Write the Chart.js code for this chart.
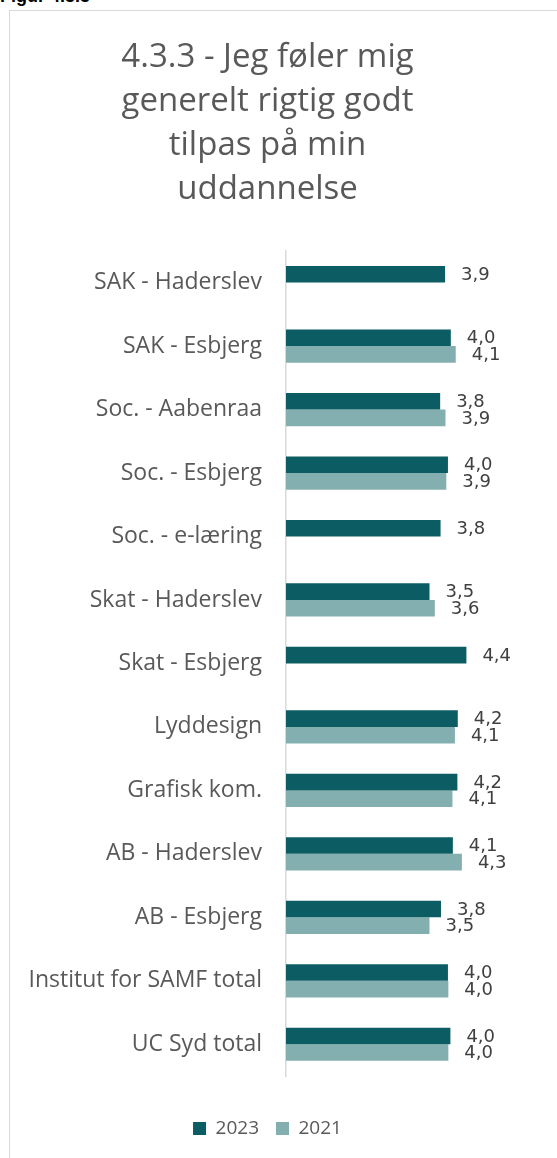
<!DOCTYPE html>
<html>
<head>
<meta charset="utf-8">
<script src="https://cdn.jsdelivr.net/npm/chart.js@4.4.1/dist/chart.umd.min.js"></script>
<style>
    body { margin: 0; background: #fff; overflow: hidden; }
    #fig { position: absolute; left: 0; top: -14px; font: bold 18px 'Liberation Sans', Arial, sans-serif; color: #000; }
    #frame { position: absolute; left: 9px; top: 10px; width: 700px; height: 1300px; border: 1.5px solid #d9d9d9; }
    #wrap { position: absolute; left: 0; top: 0; width: 557px; height: 1158px; }
</style>
</head>
<body>
<div id="fig">Figur 4.3.3</div>
<div id="frame"></div>
<div id="wrap"><canvas id="chart"></canvas></div>
<script>
// Spørgsmål 4.3.3 - gennemsnit pr. uddannelse
const CATEGORIES = [
    'SAK - Haderslev', 'SAK - Esbjerg', 'Soc. - Aabenraa', 'Soc. - Esbjerg',
    'Soc. - e-læring', 'Skat - Haderslev', 'Skat - Esbjerg', 'Lyddesign',
    'Grafisk kom.', 'AB - Haderslev', 'AB - Esbjerg', 'Institut for SAMF total',
    'UC Syd total'
];
const VALUES_2023 = [3.88, 4.02, 3.76, 3.95, 3.77, 3.50, 4.40, 4.19, 4.18, 4.07, 3.78, 3.95, 4.01];
const VALUES_2021 = [null, 4.14, 3.89, 3.91, null, 3.63, null, 4.12, 4.06, 4.29, 3.50, 3.96, 3.96];
const SERIES_NAMES = ['2023', '2021'];

const COLORS = {
    dark: '#0c5c63',
    light: '#84afb1',
    text: '#595959',
    value: '#404040',
    axis: '#d9d9d9'
};

const FONT = "'Open Sans', Lato, sans-serif";

// Draw the value next to each bar (comma decimals)
const valueLabels = {
    id: 'valueLabels',
    afterDatasetsDraw(chart) {
        const ctx = chart.ctx;
        ctx.save();
        ctx.font = "18px 'DejaVu Sans', sans-serif";
        ctx.fillStyle = COLORS.value;
        ctx.textAlign = 'left';
        ctx.textBaseline = 'middle';
        chart.data.datasets.forEach((ds, i) => {
            const meta = chart.getDatasetMeta(i);
            meta.data.forEach((bar, j) => {
                const v = ds.data[j];
                if (v == null) return;
                ctx.fillText(v.toFixed(1).replace('.', ','), bar.x + 16, bar.y + 1);
            });
        });
        ctx.restore();
    }
};

new Chart(document.getElementById('chart'), {
    type: 'bar',
    data: {
        labels: CATEGORIES,
        datasets: [{
            label: SERIES_NAMES[0],
            data: VALUES_2023,
            backgroundColor: COLORS.dark
        }, {
            label: SERIES_NAMES[1],
            data: VALUES_2021,
            backgroundColor: COLORS.light
        }]
    },
    options: {
        indexAxis: 'y',
        responsive: true,
        maintainAspectRatio: false,
        animation: false,
        categoryPercentage: 0.523,
        barPercentage: 1,
        layout: {
            padding: { left: 3, right: 25, top: 0, bottom: 10 }
        },
        plugins: {
            title: {
                display: true,
                text: ['4.3.3 - Jeg føler mig', 'generelt rigtig godt', 'tilpas på min', 'uddannelse'],
                color: COLORS.text,
                font: { family: FONT, size: 33, weight: 'normal', lineHeight: 1.34 },
                padding: { top: 35, bottom: 39 }
            },
            legend: {
                position: 'bottom',
                labels: {
                    color: COLORS.text,
                    font: { family: FONT, size: 19 },
                    boxWidth: 13,
                    boxHeight: 13,
                    padding: 17
                }
            },
            tooltip: { enabled: false }
        },
        scales: {
            x: {
                min: 0,
                max: 6,
                display: true,
                ticks: { display: false },
                grid: { display: false },
                border: { display: false },
                afterFit(scale) { scale.height = 26; }
            },
            y: {
                grid: { display: false, drawTicks: false },
                border: { display: true, color: COLORS.axis, width: 1.5 },
                ticks: {
                    color: COLORS.text,
                    font: { family: FONT, size: 23 },
                    padding: 24
                },
                afterFit(scale) { scale.width = 283; }
            }
        }
    },
    plugins: [valueLabels]
});
</script>
</body>
</html>
